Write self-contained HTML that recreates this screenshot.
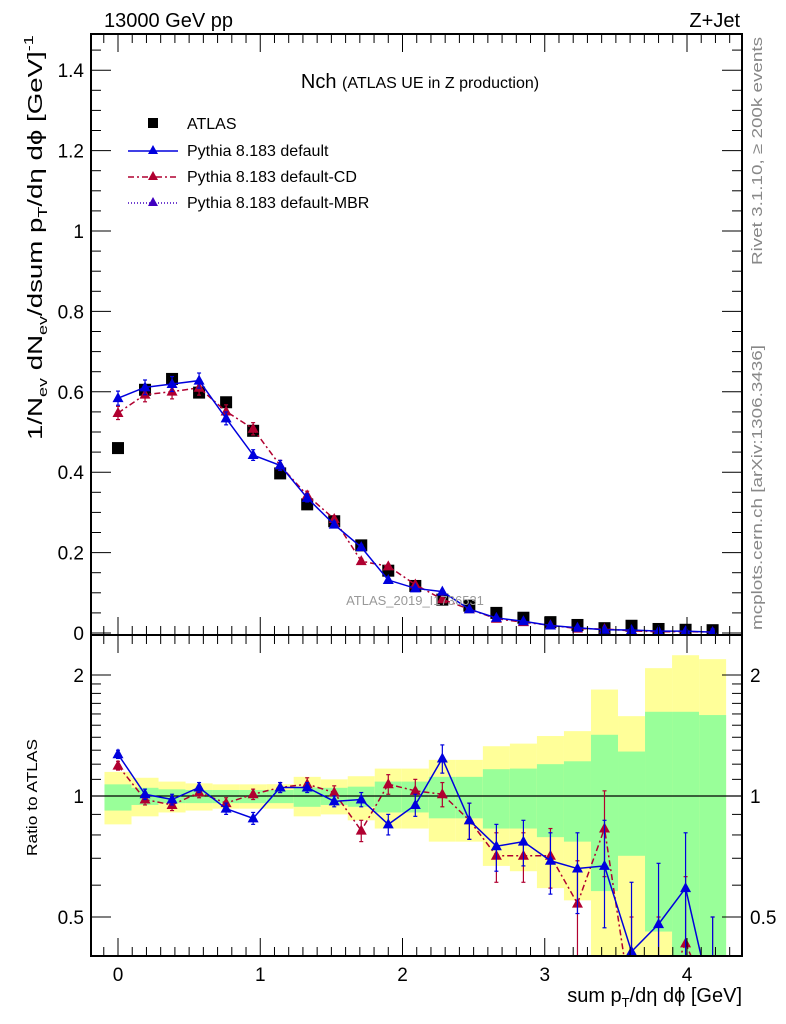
<!DOCTYPE html>
<html><head><meta charset="utf-8">
<style>
html,body{margin:0;padding:0;background:#fff;width:786px;height:1024px;overflow:hidden;}
svg{display:block;font-family:"Liberation Sans",sans-serif;}
</style></head>
<body>
<svg id="chart" width="786" height="1024" viewBox="0 0 786 1024" xmlns="http://www.w3.org/2000/svg">
<defs>
<clipPath id="clipMain"><rect x="91" y="34" width="651" height="601"/></clipPath>
<clipPath id="clipRatio"><rect x="91" y="635" width="651" height="321"/></clipPath>
</defs>
<g id="bands" clip-path="url(#clipRatio)"></g>
<g id="ratioMarks" clip-path="url(#clipRatio)"></g>
<g id="mainMarks" clip-path="url(#clipMain)"></g>
<g id="axes"></g>
<text x="104" y="27" font-size="20">13000 GeV pp</text>
<text x="740" y="27" font-size="20" text-anchor="end">Z+Jet</text>
<text x="420" y="88" font-size="20" text-anchor="middle">Nch <tspan font-size="16">(ATLAS UE in Z production)</tspan></text>
<text x="415" y="605" font-size="13" fill="#999" text-anchor="middle">ATLAS_2019_I1736531</text>
<text transform="translate(762,265) rotate(-90)" font-size="15" fill="#888" textLength="228" lengthAdjust="spacingAndGlyphs">Rivet 3.1.10, ≥ 200k events</text>
<text transform="translate(762,630) rotate(-90)" font-size="15" fill="#888" textLength="285" lengthAdjust="spacingAndGlyphs">mcplots.cern.ch [arXiv:1306.3436]</text>
<text id="ytitle" transform="translate(42,440) rotate(-90)" font-size="20">1/N<tspan font-size="13" dy="5">ev</tspan><tspan dy="-5"> dN</tspan><tspan font-size="13" dy="5">ev</tspan><tspan dy="-5">/dsum p</tspan><tspan font-size="13" dy="5">T</tspan><tspan dy="-5">/dη dϕ  [GeV]</tspan><tspan font-size="13" dy="-9">-1</tspan></text>
<text transform="translate(37,856) rotate(-90)" font-size="15" textLength="117" lengthAdjust="spacingAndGlyphs">Ratio to ATLAS</text>
<text x="742" y="1002" font-size="20" text-anchor="end">sum p<tspan font-size="13" dy="5">T</tspan><tspan dy="-5">/dη dϕ [GeV]</tspan></text>
<g id="legend">
<rect x="148" y="118" width="10" height="10" fill="#000"/>
<text x="187" y="129" font-size="16">ATLAS</text>
<line x1="128" y1="151" x2="178" y2="151" stroke="#0000dd" stroke-width="1.5"/>
<polygon points="153,145 158,154 148,154" fill="#0000dd"/>
<text x="187" y="156" font-size="16">Pythia 8.183 default</text>
<line x1="128" y1="177" x2="178" y2="177" stroke="#b00030" stroke-width="1.5" stroke-dasharray="6,3,2,3"/>
<polygon points="153,171 158,180 148,180" fill="#b00030"/>
<text x="187" y="182" font-size="16">Pythia 8.183 default-CD</text>
<line x1="128" y1="203" x2="178" y2="203" stroke="#4000c0" stroke-width="1.5" stroke-dasharray="1,2"/>
<polygon points="153,197 158,206 148,206" fill="#4000c0"/>
<text x="187" y="208" font-size="16">Pythia 8.183 default-MBR</text>
</g>
</svg>
<script>
const xCenters=[0,0.19,0.38,0.57,0.76,0.95,1.14,1.33,1.52,1.71,1.9,2.09,2.28,2.47,2.66,2.85,3.04,3.23,3.42,3.61,3.8,3.99,4.18];
const atlasValues=[0.46,0.605,0.632,0.598,0.574,0.503,0.397,0.32,0.278,0.218,0.155,0.117,0.083,0.068,0.05,0.038,0.027,0.02,0.012,0.018,0.01,0.008,0.007];
const ratioDefault=[1.27,1.01,0.98,1.05,0.93,0.88,1.05,1.05,0.97,0.98,0.85,0.95,1.24,0.87,0.75,0.77,0.69,0.66,0.67,0.41,0.48,0.59,0.3];
const errDefault=[0.03,0.03,0.03,0.03,0.03,0.03,0.03,0.03,0.03,0.04,0.05,0.06,0.1,0.09,0.1,0.1,0.12,0.15,0.2,0.2,0.2,0.22,0.2];
const ratioCD=[1.19,0.98,0.95,1.02,0.96,1.01,1.05,1.07,1.02,0.82,1.07,1.03,1.01,0.87,0.71,0.71,0.71,0.54,0.83,0.3,0.3,0.43,0.3];
const errCD=[0.03,0.03,0.03,0.03,0.03,0.03,0.03,0.04,0.04,0.05,0.06,0.07,0.07,0.09,0.1,0.1,0.12,0.15,0.2,0.2,0.2,0.2,0.2];
const greenUp=[1.069,1.048,1.039,1.035,1.035,1.035,1.035,1.05,1.048,1.055,1.086,1.086,1.116,1.116,1.166,1.17,1.2,1.22,1.42,1.29,1.62,1.62,1.59];
const greenLow=[0.92,0.95,0.96,0.96,0.96,0.96,0.96,0.94,0.95,0.94,0.91,0.91,0.88,0.88,0.83,0.83,0.79,0.77,0.58,0.71,0.46,0.3,0.3];
const yellowUp=[1.148,1.11,1.086,1.075,1.069,1.069,1.07,1.116,1.10,1.12,1.17,1.17,1.23,1.23,1.33,1.35,1.41,1.45,1.84,1.58,2.08,2.24,2.19];
const yellowLow=[0.85,0.89,0.91,0.92,0.93,0.93,0.93,0.89,0.90,0.87,0.83,0.83,0.77,0.77,0.67,0.65,0.59,0.55,0.3,0.3,0.3,0.3,0.3];
const xTicks=[0,1,2,3,4];
const yTicks=[0,0.2,0.4,0.6,0.8,1,1.2,1.4];
const rTicks=[0.5,1,2];
const binWidth=0.19;

const NS="http://www.w3.org/2000/svg";
const L=91,R=742,MT=34,MB=635,RT=635,RB=956;
const xs=v=>118+v*142.25;
const ys=v=>633-v*402;
const rs=v=>796-Math.log2(v)*121;
function mk(tag,attrs,parent){const e=document.createElementNS(NS,tag);for(const k in attrs)e.setAttribute(k,attrs[k]);parent.appendChild(e);return e;}
const gB=document.getElementById('bands'),gR=document.getElementById('ratioMarks'),gM=document.getElementById('mainMarks'),gA=document.getElementById('axes');

const yt=document.getElementById('ytitle');
try{const len=yt.getComputedTextLength();if(len>0){const s=405/len;yt.setAttribute('transform','translate(42,440) rotate(-90) scale('+s.toFixed(3)+',1)');}}catch(e){}

xCenters.forEach((c,i)=>{
  const x0=xs(c-binWidth/2),x1=xs(c+binWidth/2);
  let e=mk('rect',{x:x0,y:rs(yellowUp[i]),width:x1-x0,height:rs(yellowLow[i])-rs(yellowUp[i]),fill:'#ffff99'},gB);
  
  
  e=mk('rect',{x:x0,y:rs(greenUp[i]),width:x1-x0,height:rs(greenLow[i])-rs(greenUp[i]),fill:'#99ff99'},gB);
  
  
});
let one=mk('line',{x1:L,x2:R,y1:rs(1),y2:rs(1),stroke:'#000','stroke-width':1.2},gB);



function tri(x,y,col,g){return mk('polygon',{points:`${x},${y-6} ${x+5.5},${y+4} ${x-5.5},${y+4}`,fill:col},g);}
function series(vals,errs,col,dash,g,ymap,name){
  const pts=xCenters.map((c,i)=>xs(c)+','+ymap(vals[i])).join(' ');
  const pl=mk('polyline',{points:pts,fill:'none',stroke:col,'stroke-width':1.5},g);
  if(dash)pl.setAttribute('stroke-dasharray',dash);
  
  
  xCenters.forEach((c,i)=>{
    const x=xs(c),v=vals[i],e=errs[i];
    const yt=ymap(v+e),yb=ymap(Math.max(v-e,0.01));
    mk('line',{x1:x,x2:x,y1:yt,y2:yb,stroke:col,'stroke-width':1.2},g);
    mk('line',{x1:x-2,x2:x+2,y1:yt,y2:yt,stroke:col,'stroke-width':1.2},g);
    mk('line',{x1:x-2,x2:x+2,y1:yb,y2:yb,stroke:col,'stroke-width':1.2},g);
    const t=tri(x,ymap(v),col,g);
    
    
  });
}
series(ratioCD,errCD,'#b00030','6,3,2,3',gR,rs,'ratio-default-cd');
series(ratioDefault,errDefault,'#0000dd',null,gR,rs,'ratio-default');

xCenters.forEach((c,i)=>{
  const s=mk('rect',{x:xs(c)-6,y:ys(atlasValues[i])-6,width:12,height:12,fill:'#000'},gM);
  
  
});
const mainDef=atlasValues.map((v,i)=>v*ratioDefault[i]);
const mainCD=atlasValues.map((v,i)=>v*ratioCD[i]);
series(mainCD,mainCD.map(v=>v*0.03),'#b00030','6,3,2,3',gM,ys,'default-cd');
series(mainDef,mainDef.map(v=>v*0.03),'#0000dd',null,gM,ys,'default');

[[MT,MB],[RT,RB]].forEach(([t,b],k)=>{
  const f=mk('rect',{x:L,y:t,width:R-L,height:b-t,fill:'none',stroke:'#000','stroke-width':2},gA);
  
  
  for(let v=-0.1;v<=4.41;v+=0.1){
    const x=xs(v);if(x<L||x>R)continue;
    const maj=Math.abs(v-Math.round(v))<0.01;
    const len=maj?18:9;
    mk('line',{x1:x,x2:x,y1:b,y2:b-len,stroke:'#000','stroke-width':1},gA);
    mk('line',{x1:x,x2:x,y1:t,y2:t+len,stroke:'#000','stroke-width':1},gA);
  }
});
for(let v=0;v<=1.49;v+=0.05){
  const y=ys(v);if(y<MT)continue;
  const maj=Math.abs(v/0.2-Math.round(v/0.2))<0.01;const len=maj?20:10;
  mk('line',{x1:L,x2:L+len,y1:y,y2:y,stroke:'#000'},gA);
  mk('line',{x1:R,x2:R-len,y1:y,y2:y,stroke:'#000'},gA);
}
yTicks.forEach(v=>{
  const t=mk('text',{x:84,y:ys(v)+7,'font-size':19,'text-anchor':'end'},gA);
  t.textContent=(v===0?'0':String(v));
  
  
});
for(let v=0.4;v<=2.5;v+=(v<1.99?0.1:0.5)){
  const y=rs(v);if(y<RT||y>RB)continue;
  const maj=[0.5,1,2].some(m=>Math.abs(m-v)<0.01);const len=maj?20:10;
  mk('line',{x1:L,x2:L+len,y1:y,y2:y,stroke:'#000'},gA);
  mk('line',{x1:R,x2:R-len,y1:y,y2:y,stroke:'#000'},gA);
}
rTicks.forEach(v=>{
  let t=mk('text',{x:84,y:rs(v)+7,'font-size':19,'text-anchor':'end'},gA);
  t.textContent=String(v);
  
  
  t=mk('text',{x:750,y:rs(v)+7,'font-size':19},gA);
  t.textContent=String(v);
  
  
});
xTicks.forEach(v=>{
  const t=mk('text',{x:xs(v),y:981,'font-size':19,'text-anchor':'middle'},gA);
  t.textContent=String(v);
  
  
});
</script>
</body></html>
